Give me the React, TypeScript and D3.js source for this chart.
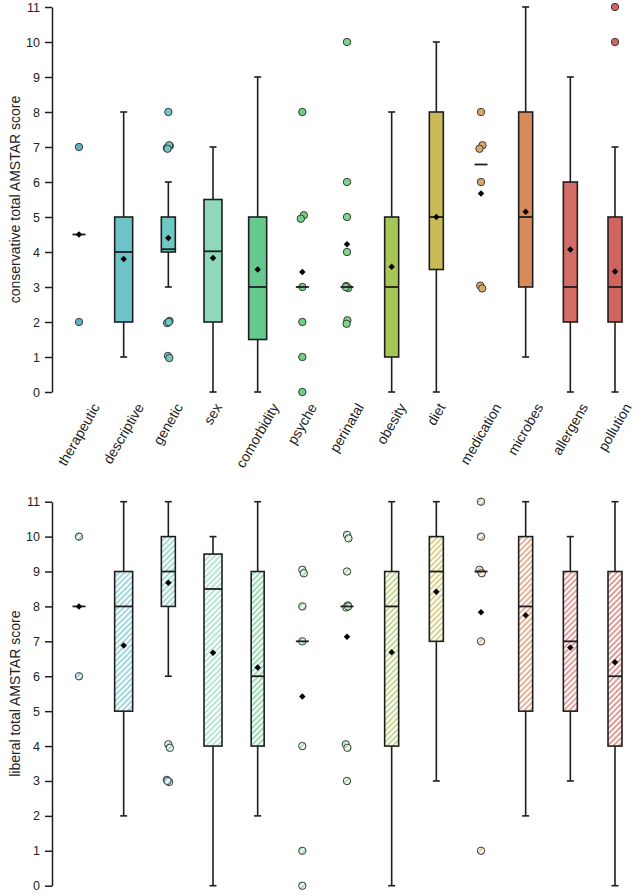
import React, { useEffect, useRef } from 'react';
import * as d3 from 'd3';

const categories = [
  'therapeutic', 'descriptive', 'genetic', 'sex', 'comorbidity', 'psyche', 'perinatal',
  'obesity', 'diet', 'medication', 'microbes', 'allergens', 'pollution',
];

// conservative score summaries (null = no box drawn)
const consQ1 = [null, 2, 4, 2, 1.5, null, null, 1, 3.5, null, 3, 2, 2];
const consMedian = [4.5, 4, 4.08, 4.02, 3, 3, 3, 3, 5, 6.5, 5, 3, 3];
const consQ3 = [null, 5, 5, 5.5, 5, null, null, 5, 8, null, 8, 6, 5];
const consLow = [null, 1, 3, 0, 0, null, null, 0, 0, null, 1, 0, 0];
const consHigh = [null, 8, 6, 7, 9, null, null, 8, 10, null, 11, 9, 7];
const consMean = [4.5, 3.8, 4.4, 3.83, 3.5, 3.43, 4.22, 3.58, 5.0, 5.67, 5.15, 4.07, 3.44];
const consPoints = [
  [7, 2],
  [],
  [8, 7.03, 6.97, 7.05, 6.95, 2.03, 1.97, 2.0, 1.03, 0.97],
  [],
  [],
  [8, 5.05, 4.95, 3, 2, 1, 0],
  [10, 6, 5, 4, 3.03, 2.97, 3, 2.05, 1.95],
  [],
  [],
  [8, 7.05, 6.95, 6, 3.04, 2.96],
  [],
  [],
  [11, 10],
];

// liberal score summaries
const libQ1 = [null, 5, 8, 4, 4, null, null, 4, 7, null, 5, 5, 4];
const libMedian = [8, 8, 9, 8.5, 6, 7, 8, 8, 9, 9, 8, 7, 6];
const libQ3 = [null, 9, 10, 9.5, 9, null, null, 9, 10, null, 10, 9, 9];
const libLow = [null, 2, 6, 0, 2, null, null, 0, 3, null, 2, 3, 0];
const libHigh = [null, 11, 11, 10, 11, null, null, 11, 11, null, 11, 10, 11];
const libMean = [8, 6.88, 8.68, 6.67, 6.25, 5.42, 7.13, 6.69, 8.42, 7.83, 7.75, 6.82, 6.4];
const libPoints = [
  [10, 6],
  [],
  [4.05, 3.95, 3.03, 2.97, 3.0],
  [],
  [],
  [9.05, 8.95, 8, 7, 4, 1, 0],
  [10.05, 9.95, 9, 8.03, 7.97, 8, 4.05, 3.95, 3],
  [],
  [],
  [11, 10, 9.05, 8.95, 7, 1],
  [],
  [],
  [],
];

const yTicks = [0, 1, 2, 3, 4, 5, 6, 7, 8, 9, 10, 11];

// styling
const colors = [
  '#5fb4c4', '#6ec3c9', '#70c8c4', '#8fd8bc', '#66c98f', '#72cf88', '#7fd48b',
  '#a6c658', '#c9bb58', '#dba868', '#d78a5c', '#d46d66', '#d0645f',
];
const boxWTop = [0, 18, 14, 18, 18, 0, 0, 14, 14, 0, 14, 14, 14];
const boxWBottom = [0, 18, 14, 18, 13, 0, 0, 14, 14, 0, 14, 14, 14];
const jitter = [0, 1.5, -1.5, 0.8, -0.8, 1.2, -1.2, 0.4, -0.4, 1];
const font = "'Liberation Sans', Arial, sans-serif";
const ink = '#1e1e1e';

const App = () => {
  const ref = useRef<SVGSVGElement>(null);

  useEffect(() => {
    const svg = d3.select(ref.current);
    svg.selectAll('*').remove();

    const x = d3.scalePoint().domain(categories).range([79, 615]);
    const yTop = d3.scaleLinear().domain([0, 11]).range([392, 7]);
    const yBot = d3.scaleLinear().domain([0, 11]).range([885.7, 501.7]);

    const defs = svg.append('defs');
    colors.forEach((c, i) => {
      const p = defs
        .append('pattern')
        .attr('id', `hatch${i}`)
        .attr('patternUnits', 'userSpaceOnUse')
        .attr('width', 4)
        .attr('height', 4)
        .attr('patternTransform', 'rotate(45)');
      p.append('rect').attr('width', 4).attr('height', 4).attr('fill', '#fff');
      p.append('line')
        .attr('x1', 1).attr('y1', 0).attr('x2', 1).attr('y2', 4)
        .attr('stroke', c).attr('stroke-width', 1.3);
    });

    const drawPanel = (
      y: d3.ScaleLinear<number, number>,
      q1: (number | null)[],
      med: number[],
      q3: (number | null)[],
      lo: (number | null)[],
      hi: (number | null)[],
      mean: number[],
      pts: number[][],
      widths: number[],
      fill: (i: number) => string,
      title: string
    ) => {
      const g = svg.append('g');

      const axis = d3.axisLeft(y).tickValues(yTicks).tickSize(7).tickSizeOuter(0).tickPadding(5);
      const ax = g.append('g').attr('transform', 'translate(52,0)').attr('color', ink).call(axis);
      ax.selectAll('path, line').attr('stroke', ink).attr('stroke-width', 1.5);
      ax.selectAll('text').attr('font-family', font).attr('font-size', 12.5).attr('fill', '#222');

      const [r0, r1] = y.range();
      g.append('text')
        .attr('transform', `translate(20,${(r0 + r1) / 2}) rotate(-90)`)
        .attr('text-anchor', 'middle')
        .attr('font-family', font)
        .attr('font-size', 14)
        .attr('fill', '#222')
        .text(title);

      categories.forEach((c, i) => {
        const cx = x(c)!;
        const w = widths[i];
        if (q1[i] != null && q3[i] != null) {
          g.append('line')
            .attr('x1', cx).attr('x2', cx)
            .attr('y1', y(lo[i]!)).attr('y2', y(q1[i]!))
            .attr('stroke', ink).attr('stroke-width', 1.6);
          g.append('line')
            .attr('x1', cx).attr('x2', cx)
            .attr('y1', y(q3[i]!)).attr('y2', y(hi[i]!))
            .attr('stroke', ink).attr('stroke-width', 1.6);
          [lo[i]!, hi[i]!].forEach((v) => {
            g.append('line')
              .attr('x1', cx - 3.5).attr('x2', cx + 3.5)
              .attr('y1', y(v)).attr('y2', y(v))
              .attr('stroke', ink).attr('stroke-width', 1.6);
          });
          g.append('rect')
            .attr('x', cx - w / 2)
            .attr('width', w)
            .attr('y', y(q3[i]!))
            .attr('height', y(q1[i]!) - y(q3[i]!))
            .attr('fill', fill(i))
            .attr('stroke', ink)
            .attr('stroke-width', 1.6);
          g.append('line')
            .attr('x1', cx - w / 2).attr('x2', cx + w / 2)
            .attr('y1', y(med[i])).attr('y2', y(med[i]))
            .attr('stroke', ink).attr('stroke-width', 1.8);
        }

        pts[i].forEach((v, j) => {
          const crowded = pts[i].filter((u) => Math.abs(u - v) < 0.2).length > 1;
          g.append('circle')
            .attr('cx', cx + (crowded ? jitter[j % jitter.length] : 0))
            .attr('cy', y(v))
            .attr('r', 3.7)
            .attr('fill', fill(i))
            .attr('stroke', '#3a3a3a')
            .attr('stroke-width', 1);
        });

        if (q1[i] == null) {
          g.append('line')
            .attr('x1', cx - 6.5).attr('x2', cx + 6.5)
            .attr('y1', y(med[i])).attr('y2', y(med[i]))
            .attr('stroke', ink).attr('stroke-width', 1.8);
        }

        g.append('path')
          .attr('d', d3.symbol(d3.symbolSquare, 21)())
          .attr('transform', `translate(${cx},${y(mean[i])}) rotate(45)`)
          .attr('fill', '#000');
      });
    };

    drawPanel(
      yTop, consQ1, consMedian, consQ3, consLow, consHigh, consMean, consPoints,
      boxWTop, (i) => colors[i], 'conservative total AMSTAR score'
    );
    drawPanel(
      yBot, libQ1, libMedian, libQ3, libLow, libHigh, libMean, libPoints,
      boxWBottom, (i) => `url(#hatch${i})`, 'liberal total AMSTAR score'
    );

    // rotated category labels under the top panel
    const lab = svg.append('g');
    categories.forEach((c) => {
      const t = lab
        .append('text')
        .attr('text-anchor', 'middle')
        .attr('font-family', font)
        .attr('font-size', 14)
        .attr('fill', '#222')
        .text(c);
      const len = (t.node() as SVGTextElement).getComputedTextLength();
      const cy = 407 + (len / 2) * Math.sin(Math.PI / 3);
      t.attr('transform', `translate(${x(c)! + 4},${cy}) rotate(-60)`);
    });
  }, []);

  return (
    <svg
      ref={ref}
      width={638}
      height={895}
      style={{ position: 'absolute', left: 0, top: 0, background: '#fff' }}
    />
  );
};

export default App;
